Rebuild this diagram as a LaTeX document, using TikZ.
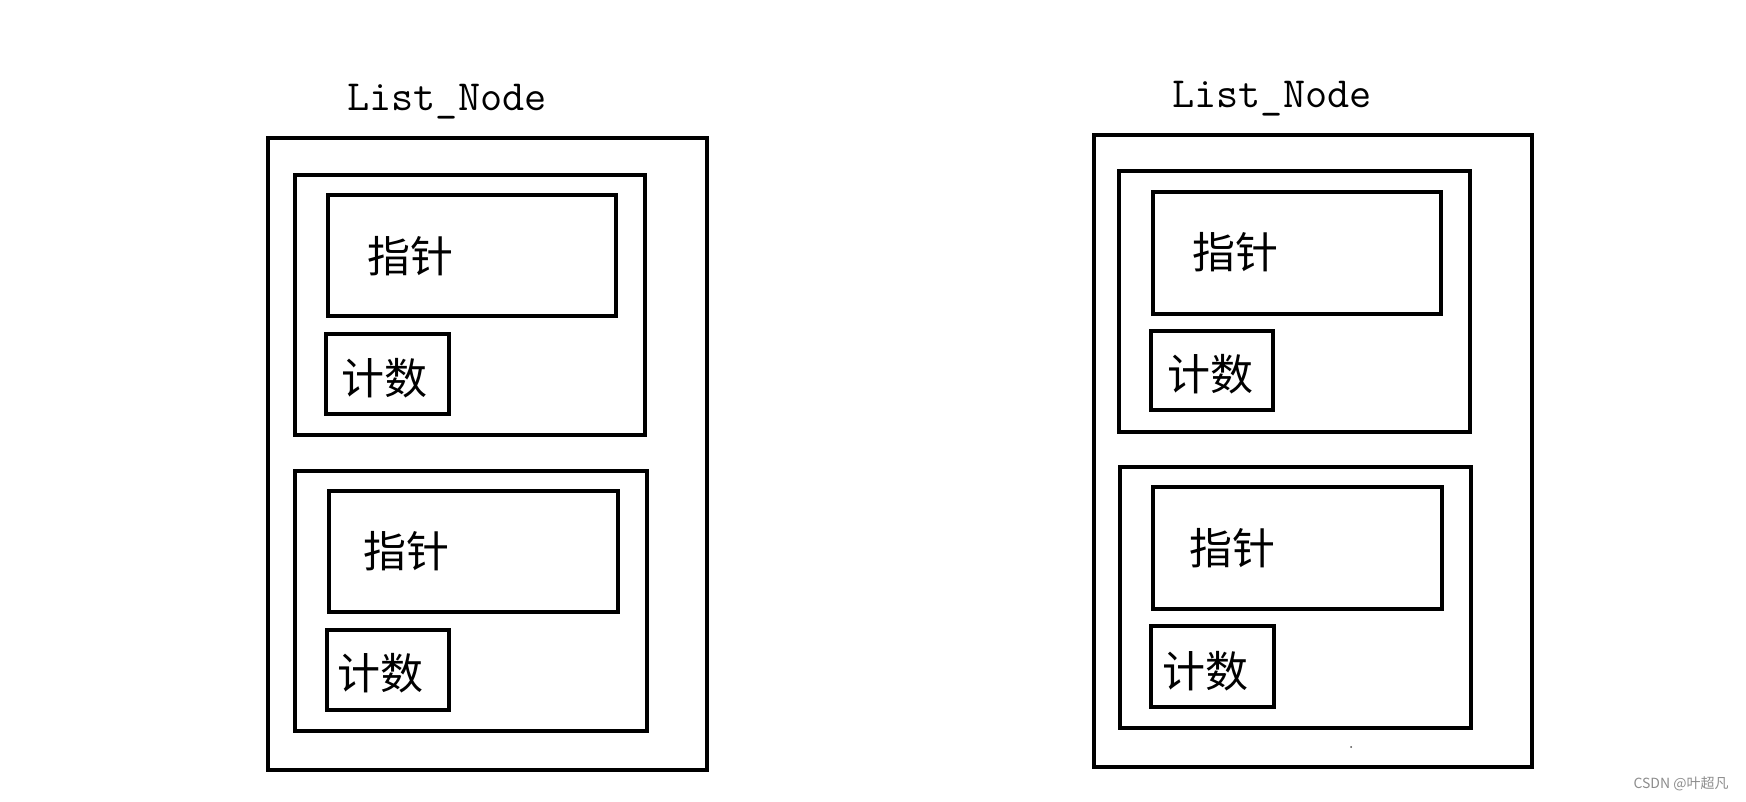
\documentclass[tikz,border=0pt]{standalone}
\usepackage{fontspec}
\usepackage{tikz}
\newfontfamily\cjk{Noto Sans CJK SC}

\begin{document}
\begin{tikzpicture}[x=1pt,y=-1pt,
	box/.style={line width=4.6pt},
	word/.style={font=\cjk\fontsize{43}{50}\selectfont,inner sep=0pt},
	title/.style={font=\ttfamily\fontsize{43}{50}\selectfont,anchor=base,inner sep=0pt}]
	
	\useasboundingbox (0,0) rectangle (1746,801);
	
	% left List_Node
	\node [title] (titleL) at (447,110) {List\_Node};
	
	\draw [box] (268,138) rectangle (707,770);
	
	\draw [box] (295,175) rectangle (645,435);
	
	\draw [box] (328,195) rectangle (616,316);
	
	\node [word] (ptrLa) at (410,256) {指针};
	
	\draw [box] (326,334) rectangle (449,414);
	
	\node [word] (cntLa) at (384,378) {计数};
	
	\draw [box] (295,471) rectangle (647,731);
	
	\draw [box] (329,491) rectangle (618,612);
	
	\node [word] (ptrLb) at (406,551) {指针};
	
	\draw [box] (327,630) rectangle (449,710);
	
	\node [word] (cntLb) at (380,673) {计数};
	
	% right List_Node
	\node [title] (titleR) at (1272,107) {List\_Node};
	
	\draw [box] (1094,135) rectangle (1532,767);
	
	\draw [box] (1119,171) rectangle (1470,432);
	
	\draw [box] (1153,192) rectangle (1441,314);
	
	\node [word] (ptrRa) at (1235,252) {指针};
	
	\draw [box] (1151,331) rectangle (1273,410);
	
	\node [word] (cntRa) at (1210,374) {计数};
	
	\draw [box] (1120,467) rectangle (1471,728);
	
	\draw [box] (1153,487) rectangle (1442,609);
	
	\node [word] (ptrRb) at (1232,548) {指针};
	
	\draw [box] (1151,626) rectangle (1274,707);
	
	\node [word] (cntRb) at (1205,671) {计数};
	
	\fill [black!70] (1351,747) circle (1);
	
	\node [font=\cjk\fontsize{14}{16}\selectfont,text=black!45,inner sep=0pt] (mark) at (1681,784) {CSDN @叶超凡};
	
\end{tikzpicture}
\end{document}
